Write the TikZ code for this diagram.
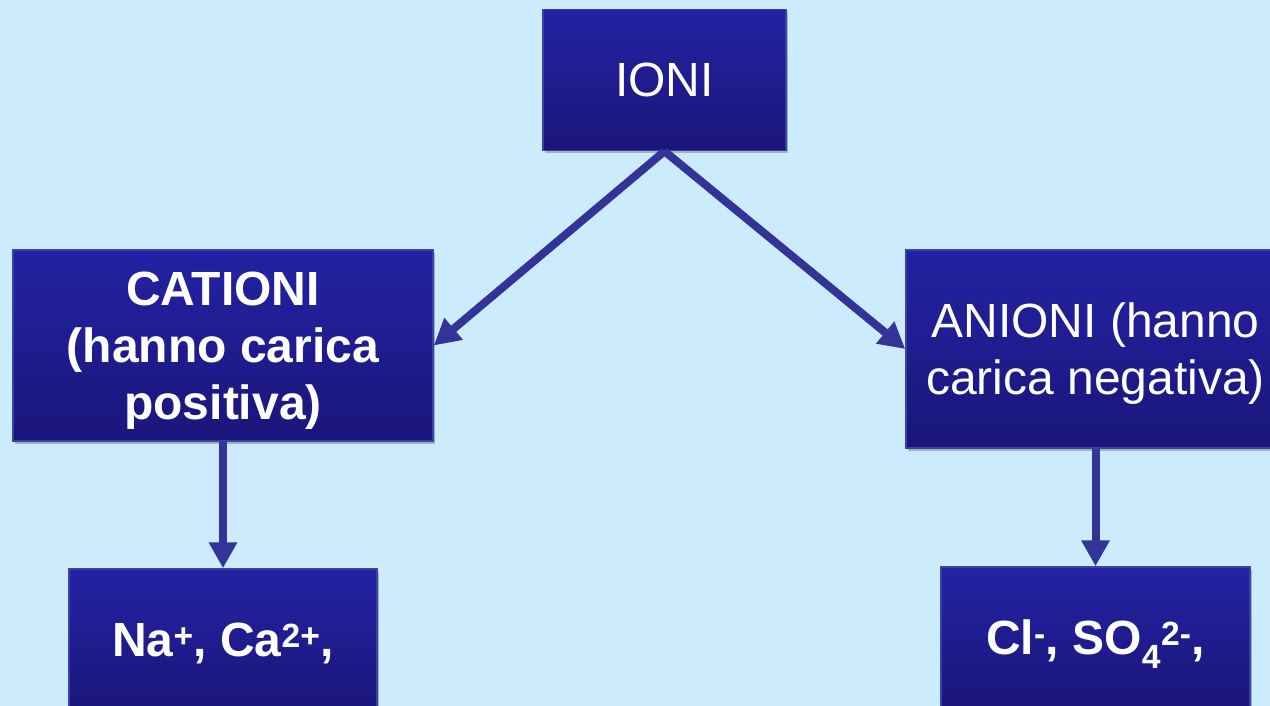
\documentclass[tikz,border=0pt]{standalone}
\usepackage{fontspec}
\setmainfont{Liberation Sans}
\usetikzlibrary{arrows.meta,shadows}
\definecolor{bgblue}{RGB}{204,236,254}
\definecolor{boxtop}{RGB}{35,35,163}
\definecolor{boxbot}{RGB}{26,22,122}
\definecolor{boxline}{RGB}{62,62,165}
\definecolor{arrowblue}{RGB}{52,52,152}
\begin{document}
\begin{tikzpicture}[x=1pt,y=-1pt,
		ionbox/.style={rectangle,draw=boxline,line width=1.5pt,top color=boxtop,bottom color=boxbot,
			text=white,align=center,inner sep=0pt,text depth=0pt,font=\fontsize{48}{57}\selectfont,
			drop shadow={shadow xshift=2pt,shadow yshift=-3pt,opacity=.35,fill=black!70}},
		link/.style={draw=arrowblue,line width=8pt,-{Triangle[length=26pt,width=27pt]}}]
	\useasboundingbox (0,0) rectangle (1270,706);
	\clip (0,0) rectangle (1270,706);
	\fill[bgblue] (0,0) rectangle (1270,706);
	% boxes
	\node[ionbox,minimum width=243pt,minimum height=141pt] (ioni) at (664.5,80)
		{IONI};
	\node[ionbox,minimum width=420pt,minimum height=191pt] (cationi) at (223,345.5)
		{\bfseries CATIONI\\\bfseries (hanno carica\\\bfseries positiva)};
	\node[ionbox,minimum width=379pt,minimum height=198pt] (anioni) at (1095.5,349)
		{ANIONI (hanno\\carica negativa)};
	\node[ionbox,minimum width=308pt,minimum height=142pt] (catex) at (223,640)
		{\bfseries Na\textsuperscript{+}, Ca\textsuperscript{2+},};
	\node[ionbox,minimum width=309pt,minimum height=140pt] (aniex) at (1095.5,637)
		{\bfseries Cl\textsuperscript{-}, SO\textsubscript{4}\textsuperscript{2-},};
	% arrows
	\draw[link] (ioni.south) -- (cationi.east);
	\draw[link] (ioni.south) -- (anioni.west);
	\draw[link] (cationi.south) -- (catex.north);
	\draw[link] (anioni.south) -- (aniex.north);
\end{tikzpicture}
\end{document}
